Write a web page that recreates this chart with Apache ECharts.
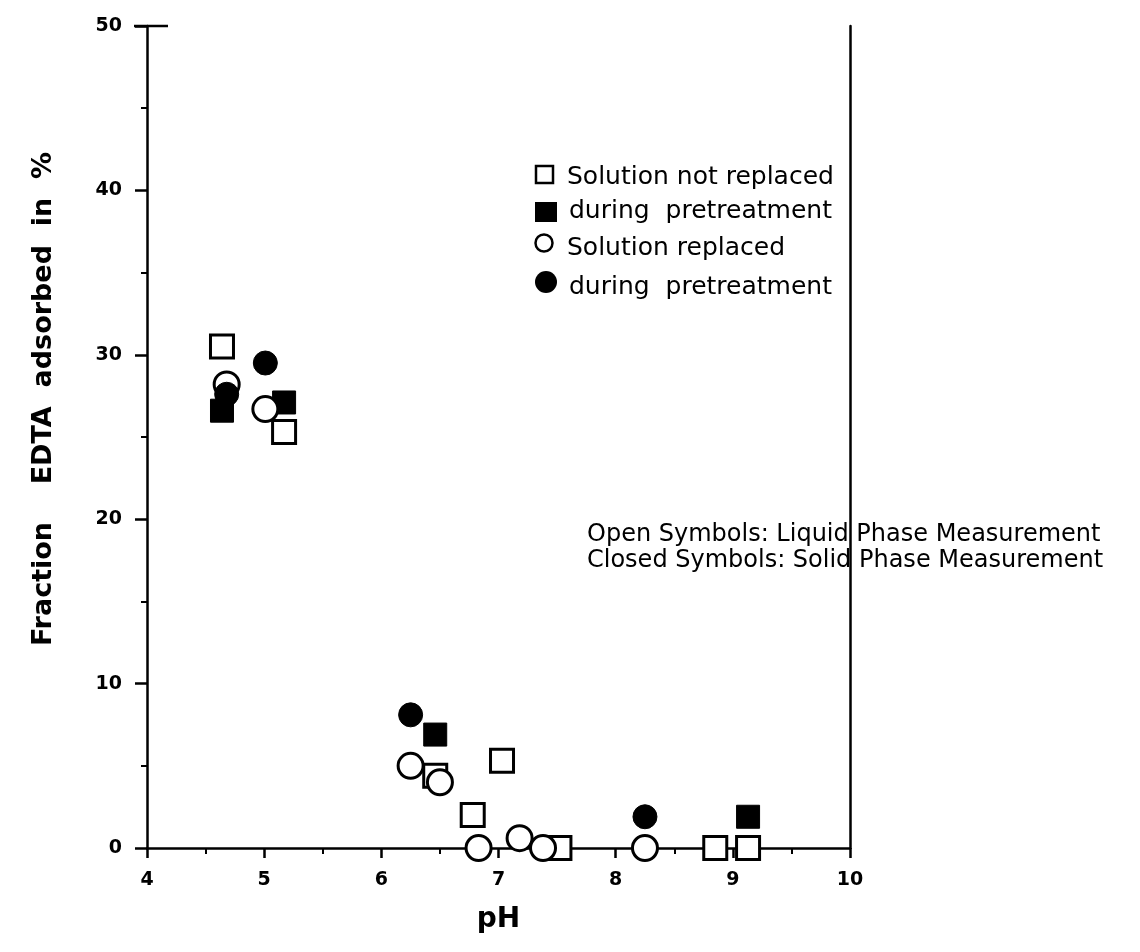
<!DOCTYPE html>
<html>
<head>
<meta charset="utf-8">
<title>EDTA adsorption vs pH</title>
<script src="https://cdn.jsdelivr.net/npm/echarts@6/dist/echarts.min.js"></script>
<style>
  html, body { margin: 0; padding: 0; background: #fff; }
  #main { width: 1140px; height: 952px; }
</style>
</head>
<body>
<div id="main"></div>
<script>
// data: [pH, % adsorbed]
var notReplacedLiquid = [[4.64, 30.5], [5.17, 25.3], [6.46, 4.4], [7.03, 5.3], [6.78, 2.0], [7.52, 0], [8.85, 0], [9.13, 0]];
var notReplacedSolid = [[4.64, 26.6], [5.17, 27.1], [6.46, 6.9], [9.13, 1.9]];
var replacedLiquid = [[4.68, 28.2], [5.01, 26.7], [6.25, 5.0], [6.5, 4.0], [6.83, 0], [7.18, 0.6], [7.38, 0], [8.25, 0]];
var replacedSolid = [[4.68, 27.6], [5.01, 29.5], [6.25, 8.1], [8.25, 1.9]];

var xTicks = [4, 5, 6, 7, 8, 9, 10];
var yTicks = [0, 10, 20, 30, 40, 50];

var legendLines = ['Solution not replaced', 'during  pretreatment', 'Solution replaced', 'during  pretreatment'];
var noteLines = ['Open Symbols: Liquid Phase Measurement', 'Closed Symbols: Solid Phase Measurement'];

var font = '"DejaVu Sans", "Liberation Sans", Arial, sans-serif';
var ink = '#000';

var chart = echarts.init(document.getElementById('main'));

function openSeries(name, data, symbol, size) {
    return {
        name: name,
        type: 'scatter',
        data: data,
        symbol: symbol,
        symbolSize: size,
        itemStyle: { color: '#fff', borderColor: ink, borderWidth: 3, opacity: 1 },
        emphasis: { disabled: true }
    };
}
function solidSeries(name, data, symbol, size) {
    return {
        name: name,
        type: 'scatter',
        data: data,
        symbol: symbol,
        symbolSize: size,
        itemStyle: { color: ink, borderColor: ink, borderWidth: 1, opacity: 1 },
        emphasis: { disabled: true }
    };
}

var option = {
    animation: false,
    backgroundColor: '#fff',
    grid: { left: 147, right: 290, top: 26, bottom: 104, containLabel: false },
    xAxis: {
        type: 'value',
        min: xTicks[0],
        max: xTicks[xTicks.length - 1],
        interval: 1,
        name: 'pH',
        nameLocation: 'middle',
        nameGap: 58,
        nameTextStyle: { fontFamily: font, fontSize: 28, fontWeight: 'bold', color: ink },
        axisLine: { show: true, onZero: false, lineStyle: { color: ink, width: 2.5 } },
        axisTick: { show: true, length: 10, lineStyle: { color: ink, width: 2.5 } },
        minorTick: { show: true, splitNumber: 2, length: 6, lineStyle: { color: ink, width: 2 } },
        axisLabel: { fontFamily: font, fontSize: 19, fontWeight: 'bold', color: ink, margin: 23 },
        splitLine: { show: false },
        minorSplitLine: { show: false }
    },
    yAxis: [{
        type: 'value',
        min: yTicks[0],
        max: yTicks[yTicks.length - 1],
        interval: 10,
        axisLine: { show: true, onZero: false, lineStyle: { color: ink, width: 2.5 } },
        axisTick: { show: true, length: 12, lineStyle: { color: ink, width: 2.5 } },
        minorTick: { show: true, splitNumber: 2, length: 6, lineStyle: { color: ink, width: 2 } },
        axisLabel: { fontFamily: font, fontSize: 19, fontWeight: 'bold', color: ink, margin: 25 },
        splitLine: { show: false },
        minorSplitLine: { show: false }
    }, {
        type: 'value',
        position: 'right',
        min: 0,
        max: 50,
        axisLine: { show: true, onZero: false, lineStyle: { color: ink, width: 2.5 } },
        axisTick: { show: false },
        axisLabel: { show: false },
        splitLine: { show: false }
    }],
    series: [
        openSeries('Solution not replaced (liquid)', notReplacedLiquid, 'rect', 23),
        solidSeries('Solution not replaced (solid)', notReplacedSolid, 'rect', 23),
        openSeries('Solution replaced (liquid)', replacedLiquid, 'circle', 25),
        solidSeries('Solution replaced (solid)', replacedSolid, 'circle', 24)
    ],
    graphic: [
        {
            type: 'text', x: 44, y: 399, rotation: Math.PI / 2,
            style: { text: 'Fraction    EDTA  adsorbed  in  %', font: 'bold 27px ' + font, fill: ink, align: 'center', verticalAlign: 'middle' }
        },
        // short cap at the top of the y axis
        { type: 'line', shape: { x1: 134, y1: 26, x2: 168, y2: 26 }, style: { stroke: ink, lineWidth: 2.5 } },
        // legend
        { type: 'rect', shape: { x: 536, y: 166, width: 17, height: 17 }, style: { fill: '#fff', stroke: ink, lineWidth: 2.5 } },
        { type: 'rect', shape: { x: 535, y: 202, width: 22, height: 20 }, style: { fill: ink } },
        { type: 'circle', shape: { cx: 544, cy: 243, r: 8.5 }, style: { fill: '#fff', stroke: ink, lineWidth: 2.5 } },
        { type: 'circle', shape: { cx: 546, cy: 282, r: 11 }, style: { fill: ink } },
        { type: 'text', x: 567, y: 177, style: { text: legendLines[0], font: '25px ' + font, fill: ink, verticalAlign: 'middle' } },
        { type: 'text', x: 569, y: 211, style: { text: legendLines[1], font: '25px ' + font, fill: ink, verticalAlign: 'middle' } },
        { type: 'text', x: 567, y: 248, style: { text: legendLines[2], font: '25px ' + font, fill: ink, verticalAlign: 'middle' } },
        { type: 'text', x: 569, y: 287, style: { text: legendLines[3], font: '25px ' + font, fill: ink, verticalAlign: 'middle' } },
        // note
        { type: 'text', x: 587, y: 535, style: { text: noteLines[0], font: '24px ' + font, fill: ink, verticalAlign: 'middle' } },
        { type: 'text', x: 587, y: 561, style: { text: noteLines[1], font: '24px ' + font, fill: ink, verticalAlign: 'middle' } }
    ]
};

chart.setOption(option);
</script>
</body>
</html>
